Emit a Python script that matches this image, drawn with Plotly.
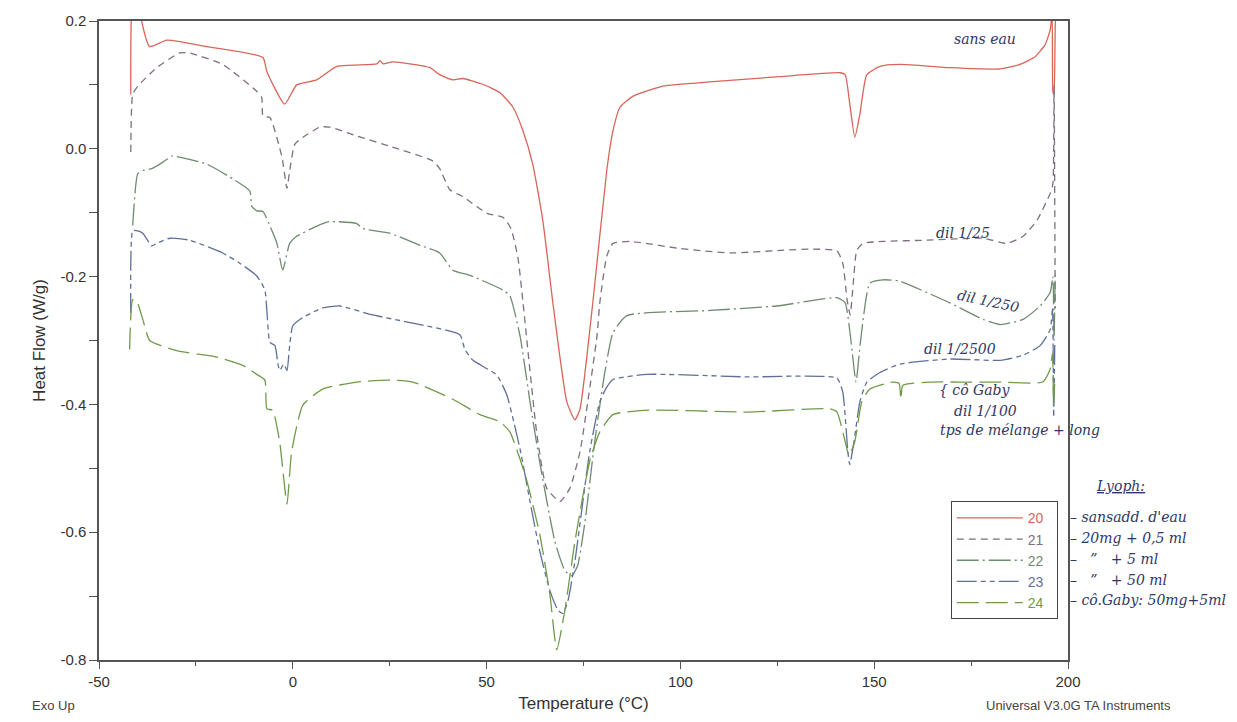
import plotly.graph_objects as go

# ---------------- data ----------------
T20 = [-41.8, -41.5, -40.2, -39.0, -36.9, -32.5, -22.2, -7.7, -6.7, -2.1, 1.0, 6.2, 11.4, 21.7, 22.5, 23.3,
       25.8, 35.4, 37.9, 41.3, 43.9, 49.0, 53.4, 56.8, 59.4, 61.9, 64.5, 67.1, 70.7, 72.8, 74.1, 77.4,
       81.0, 82.6, 84.4, 87.7, 95.5, 108.4, 125.7, 141.2, 142.5, 143.7, 145.0, 146.3, 148.1, 151.5,
       156.6, 169.5, 182.5, 187.6, 191.5, 194.1, 195.4, 195.9, 196.1, 196.4, 196.7, 197.0]
HF20 = [0.085, 0.23, 0.26, 0.20, 0.160, 0.170, 0.160, 0.143, 0.121, 0.070, 0.100, 0.108, 0.129, 0.133, 0.138, 0.133,
        0.136, 0.127, 0.116, 0.108, 0.110, 0.101, 0.088, 0.065, 0.028, -0.024, -0.112, -0.241, -0.396, -0.424, -0.407, -0.241,
        -0.034, 0.028, 0.065, 0.082, 0.098, 0.105, 0.113, 0.119, 0.116, 0.070, 0.018, 0.054, 0.116, 0.129,
        0.132, 0.127, 0.125, 0.132, 0.144, 0.163, 0.186, 0.21, 0.09, 0.085, 0.19, 0.23]

T21 = [-41.8, -41.3, -40.0, -35.1, -29.2, -26.6, -18.1, -9.3, -8.0, -7.7, -5.9, -2.8, -1.5, -0.8, 0.5, 2.6,
       7.0, 9.5, 16.5, 25.0, 36.1, 37.9, 40.5, 43.9, 50.1, 54.2, 56.3, 58.1, 59.4, 63.0, 65.5, 68.9,
       71.5, 74.1, 76.1, 78.5, 79.2, 81.0, 82.6, 87.0, 99.9, 112.8, 125.7, 134.2, 140.4, 141.9, 143.0,
       143.8, 144.6, 145.5, 147.1, 152.3, 163.6, 178.1, 184.3, 188.4, 192.0, 195.4, 196.1, 196.4, 196.7]
HF21 = [-0.005, 0.085, 0.098, 0.127, 0.150, 0.150, 0.132, 0.090, 0.080, 0.051, 0.049, -0.013, -0.062, -0.034, 0.007, 0.018,
        0.034, 0.034, 0.020, 0.004, -0.019, -0.031, -0.064, -0.075, -0.101, -0.107, -0.125, -0.171, -0.241, -0.448, -0.531, -0.552,
        -0.531, -0.474, -0.396, -0.292, -0.241, -0.168, -0.148, -0.145, -0.156, -0.163, -0.159, -0.157, -0.160, -0.179, -0.236,
        -0.260, -0.210, -0.159, -0.148, -0.145, -0.143, -0.140, -0.148, -0.137, -0.112, -0.070, -0.055, 0.10, -0.25]

T22 = [-41.3, -40.0, -38.7, -36.4, -34.3, -31.0, -29.2, -22.2, -16.3, -11.1, -10.6, -9.3, -7.7, -5.4, -4.1,
       -2.6, -0.8, 1.0, 6.2, 9.5, 16.5, 18.1, 25.0, 32.8, 37.9, 41.3, 45.7, 54.2, 56.0, 58.6, 61.2, 63.7,
       67.6, 70.2, 72.0, 73.5, 75.4, 77.9, 80.5, 82.6, 86.2, 107.6, 124.9, 140.4, 142.5, 144.0, 145.3,
       146.5, 148.9, 152.3, 156.6, 163.6, 169.5, 178.1, 182.5, 188.4, 192.8, 195.4, 196.1, 196.4, 196.7]
HF22 = [-0.120, -0.039, -0.034, -0.031, -0.024, -0.011, -0.013, -0.024, -0.044, -0.066, -0.090, -0.097, -0.098, -0.128, -0.148,
        -0.190, -0.148, -0.137, -0.121, -0.114, -0.117, -0.125, -0.132, -0.151, -0.163, -0.190, -0.198, -0.221, -0.230, -0.292, -0.396, -0.490,
        -0.614, -0.660, -0.668, -0.652, -0.583, -0.458, -0.350, -0.288, -0.261, -0.253, -0.246, -0.233, -0.241, -0.300, -0.365,
        -0.300, -0.210, -0.205, -0.207, -0.225, -0.241, -0.267, -0.275, -0.267, -0.246, -0.225, -0.200, -0.300, -0.190]

T23 = [-41.8, -41.3, -40.3, -38.7, -36.4, -35.1, -31.7, -26.6, -18.1, -13.7, -9.3, -7.2, -6.7, -5.9, -4.6,
       -3.9, -3.4, -2.3, -1.5, -0.8, 0.0, 2.6, 7.7, 12.1, 20.6, 32.8, 43.1, 44.4, 46.5, 52.6, 55.2, 58.6,
       61.2, 63.7, 66.3, 68.4, 69.7, 71.0, 72.8, 76.6, 79.2, 81.0, 82.6, 91.4, 117.2, 140.4, 141.9, 143.2,
       143.7, 144.8, 146.3, 148.1, 151.5, 156.6, 169.5, 182.5, 188.4, 192.8, 195.4, 196.0, 196.3, 196.6]
HF23 = [-0.257, -0.128, -0.128, -0.132, -0.152, -0.148, -0.140, -0.143, -0.163, -0.179, -0.199, -0.221, -0.252, -0.303, -0.308,
        -0.334, -0.347, -0.337, -0.347, -0.308, -0.277, -0.264, -0.249, -0.246, -0.260, -0.275, -0.291, -0.314, -0.331, -0.354, -0.385, -0.469,
        -0.552, -0.629, -0.691, -0.722, -0.727, -0.707, -0.645, -0.474, -0.396, -0.373, -0.361, -0.353, -0.357, -0.359, -0.381, -0.474,
        -0.494, -0.458, -0.396, -0.365, -0.350, -0.337, -0.329, -0.331, -0.323, -0.308, -0.283, -0.250, -0.420, -0.300]

T24 = [-42.1, -41.3, -40.3, -38.7, -36.9, -29.9, -19.6, -12.9, -9.3, -7.2, -6.7, -5.2, -3.4, -1.5, -0.3,
       2.6, 7.7, 16.5, 25.0, 31.0, 41.3, 48.3, 53.4, 56.0, 58.6, 60.4, 63.7, 66.3, 68.1, 70.2, 72.8, 76.6,
       79.2, 82.6, 91.4, 117.2, 138.6, 140.4, 142.5, 143.5, 145.0, 146.8, 148.9, 154.8, 156.4, 156.9, 157.4,
       165.2, 172.1, 182.5, 193.5, 195.4, 196.0, 196.3, 196.6]
HF24 = [-0.314, -0.236, -0.238, -0.267, -0.300, -0.316, -0.326, -0.339, -0.353, -0.362, -0.407, -0.409, -0.458, -0.556, -0.474,
        -0.401, -0.376, -0.365, -0.362, -0.365, -0.392, -0.416, -0.427, -0.443, -0.485, -0.520, -0.603, -0.696, -0.784, -0.722, -0.614, -0.489,
        -0.443, -0.416, -0.409, -0.412, -0.407, -0.412, -0.458, -0.480, -0.458, -0.396, -0.376, -0.365, -0.367, -0.392, -0.370,
        -0.365, -0.365, -0.365, -0.365, -0.345, -0.320, -0.400, -0.360]

series = [
    ("20", T20, HF20, "#d9645a", "solid"),
    ("21", T21, HF21, "#7d6f80", "7px,5px"),
    ("22", T22, HF22, "#6f8a6f", "22px,4px,2px,4px"),
    ("23", T23, HF23, "#5f6f9a", "20px,4px,5px,4px,5px,4px"),
    ("24", T24, HF24, "#6f9a4a", "22px,7px"),
]

x_ticks = [-50, 0, 50, 100, 150, 200]
x_labels = ["-50", "0", "50", "100", "150", "200"]
y_ticks = [0.2, 0.0, -0.2, -0.4, -0.6, -0.8]
y_labels = ["0.2", "0.0", "-0.2", "-0.4", "-0.6", "-0.8"]

fig = go.Figure()
for name, xs, ys, col, dash in series:
    fig.add_trace(go.Scatter(
        x=xs, y=ys, mode="lines",
        line=dict(color=col, width=1.3, dash=dash, shape="spline", smoothing=0.5),
        name=f"<span style='color:{col}'>{name}</span>\u00a0\u00a0", showlegend=True))

axis_font = dict(family="Liberation Sans, Arial, sans-serif", size=15, color="#333")
fig.update_layout(
    width=1237, height=722,
    margin=dict(l=99, r=169, t=16, b=62),
    paper_bgcolor="white", plot_bgcolor="white",
    font=axis_font,
    xaxis=dict(range=[-50, 200], tickvals=x_ticks, ticktext=x_labels, ticks="outside", ticklen=7,
               tickcolor="#555", showline=True, linecolor="#555", linewidth=1.5, mirror=True,
               showgrid=False, zeroline=False,
               minor=dict(dtick=25, ticks="outside", ticklen=4, tickcolor="#555"),
               title=dict(text="Temperature (°C)", font=dict(size=17, color="#333"), standoff=8)),
    yaxis=dict(range=[-0.8, 0.2], tickvals=y_ticks, ticktext=y_labels, ticks="outside", ticklen=8,
               tickcolor="#555", showline=True, linecolor="#555", linewidth=1.5, mirror=True,
               showgrid=False, zeroline=False,
               minor=dict(dtick=0.1, ticks="outside", ticklen=8, tickcolor="#555"),
               title=dict(text="Heat Flow (W/g)", font=dict(size=17, color="#333"), standoff=10)),
    legend=dict(x=0.879, y=0.2484, xanchor="left", yanchor="top", bgcolor="white",
                bordercolor="#444", borderwidth=1, itemwidth=66,
                font=dict(family="Liberation Sans, Arial, sans-serif", size=14)),
)

# printed instrument texts
fig.add_annotation(text="Exo Up", xref="paper", yref="paper", x=-0.071, y=-0.0714,
                   xanchor="left", yanchor="middle", showarrow=False,
                   font=dict(size=13, color="#444"))
fig.add_annotation(text="Universal V3.0G TA Instruments", xref="paper", yref="paper", x=1.108, y=-0.0714,
                   xanchor="right", yanchor="middle", showarrow=False,
                   font=dict(size=13, color="#444"))

# handwritten notes
hand = dict(family="DejaVu Serif, serif", size=14, color="#2e3766")
notes = [
    ("<i>sans eau</i>", 178.6, 0.172, 0),
    ("<i>dil 1/25</i>", 172.9, -0.132, 0),
    ("<i>dil 1/250</i>", 179.4, -0.238, 12),
    ("<i>dil 1/2500</i>", 172.1, -0.314, 0),
    ("<i>{ cô Gaby</i>", 176.0, -0.378, 0),
    ("<i>dil 1/100</i>", 178.6, -0.410, 0),
    ("<i>tps de mélange + long</i>", 187.6, -0.440, 0),
]
for txt, xv, yv, ang in notes:
    fig.add_annotation(text=txt, x=xv, y=yv, showarrow=False, textangle=ang,
                       font=hand, xanchor="center", yanchor="middle")

fig.add_annotation(text="<i><u>Lyoph:</u></i>", xref="paper", yref="paper", x=1.054, y=0.272,
                   showarrow=False, font=hand, xanchor="center", yanchor="middle")
legend_notes = ["– sansadd. d'eau", "– 20mg + 0,5 ml", "–   \u201d   + 5 ml", "–   \u201d   + 50 ml",
                "– cô.Gaby: 50mg+5ml"]
legend_y = [0.2236, 0.1910, 0.1584, 0.1258, 0.0932]
for txt, yv in zip(legend_notes, legend_y):
    fig.add_annotation(text=f"<i>{txt}</i>", xref="paper", yref="paper", x=1.000, y=yv,
                       showarrow=False, font=hand, xanchor="left", yanchor="middle")

fig.write_html("out.html")
